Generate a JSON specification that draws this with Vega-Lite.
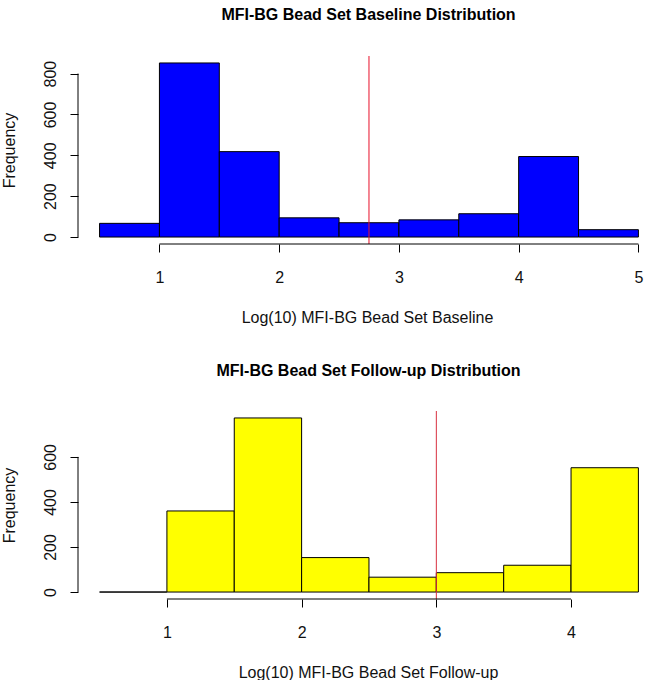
{
  "$schema": "https://vega.github.io/schema/vega-lite/v6.json",
  "padding": {"left": 1, "top": 6, "right": 0, "bottom": 0},
  "background": "white",
  "config": {
    "view": {"stroke": null},
    "font": "Liberation Sans",
    "title": {"font": "Liberation Sans", "fontSize": 16, "fontWeight": "bold", "color": "black", "offset": 33, "dx": 7},
    "axis": {
      "grid": false,
      "domain": false,
      "tickColor": "black",
      "tickSize": 8,
      "tickWidth": 1,
      "labelFont": "Liberation Sans",
      "labelFontSize": 16,
      "labelColor": "#111",
      "titleFont": "Liberation Sans",
      "titleFontSize": 16,
      "titleFontWeight": "normal",
      "titleColor": "#111",
      "labelFlush": false,
      "labelOverlap": false
    },
    "axisX": {"labelPadding": 17, "titlePadding": 24, "labelAngle": 0},
    "axisY": {"labelAngle": 270, "labelAlign": "center", "labelBaseline": "bottom", "labelPadding": 12, "titlePadding": 25}
  },
  "datasets": {
    "baseline": [
      {"bin_start": 0.5, "bin_end": 1.0, "count": 67},
      {"bin_start": 1.0, "bin_end": 1.5, "count": 852},
      {"bin_start": 1.5, "bin_end": 2.0, "count": 418},
      {"bin_start": 2.0, "bin_end": 2.5, "count": 94},
      {"bin_start": 2.5, "bin_end": 3.0, "count": 70},
      {"bin_start": 3.0, "bin_end": 3.5, "count": 84},
      {"bin_start": 3.5, "bin_end": 4.0, "count": 114},
      {"bin_start": 4.0, "bin_end": 4.5, "count": 394},
      {"bin_start": 4.5, "bin_end": 5.0, "count": 36}
    ],
    "followup": [
      {"bin_start": 0.5, "bin_end": 1.0, "count": 0},
      {"bin_start": 1.0, "bin_end": 1.5, "count": 360},
      {"bin_start": 1.5, "bin_end": 2.0, "count": 773},
      {"bin_start": 2.0, "bin_end": 2.5, "count": 153},
      {"bin_start": 2.5, "bin_end": 3.0, "count": 66},
      {"bin_start": 3.0, "bin_end": 3.5, "count": 86},
      {"bin_start": 3.5, "bin_end": 4.0, "count": 119},
      {"bin_start": 4.0, "bin_end": 4.5, "count": 552}
    ],
    "baselineLine": [{"value": 2.75}],
    "followupLine": [{"value": 3.0}]
  },
  "spacing": 37,
  "vconcat": [
    {
      "title": {"text": "MFI-BG Bead Set Baseline Distribution"},
      "width": 567,
      "height": 188,
      "layer": [
        {
          "data": {"name": "baseline"},
          "mark": {"type": "bar", "fill": "#0000ff", "stroke": "black", "strokeWidth": 1},
          "encoding": {
            "x": {"field": "bin_start", "type": "quantitative",
                  "scale": {"domain": [0.32, 5.055], "nice": false, "zero": false},
                  "axis": {"values": [1, 2, 3, 4, 5], "format": "d", "title": "Log(10) MFI-BG Bead Set Baseline", "titleX": 289}},
            "x2": {"field": "bin_end"},
            "y": {"field": "count", "type": "quantitative",
                  "scale": {"domain": [-34.1, 886.1], "nice": false, "zero": false},
                  "axis": {"values": [0, 200, 400, 600, 800], "title": "Frequency"}},
            "y2": {"datum": 0}
          }
        },
        {
          "data": {"name": "baselineLine"},
          "mark": {"type": "rule", "color": "#e8102a", "strokeWidth": 1},
          "encoding": {"x": {"field": "value", "type": "quantitative"}}
        },
        {
          "data": {"values": [{}]},
          "mark": {"type": "rule", "color": "black", "strokeWidth": 1},
          "encoding": {"x": {"datum": 1}, "x2": {"datum": 5}, "y": {"datum": -34.1}}
        },
        {
          "data": {"values": [{}]},
          "mark": {"type": "rule", "color": "black", "strokeWidth": 1},
          "encoding": {"y": {"datum": 0}, "y2": {"datum": 800}, "x": {"datum": 0.32}}
        }
      ]
    },
    {
      "title": {"text": "MFI-BG Bead Set Follow-up Distribution", "offset": 32},
      "width": 567,
      "height": 188,
      "layer": [
        {
          "data": {"name": "followup"},
          "mark": {"type": "bar", "fill": "#ffff00", "stroke": "black", "strokeWidth": 1},
          "encoding": {
            "x": {"field": "bin_start", "type": "quantitative",
                  "scale": {"domain": [0.34, 4.549], "nice": false, "zero": false},
                  "axis": {"values": [1, 2, 3, 4], "format": "d", "title": "Log(10) MFI-BG Bead Set Follow-up", "titleX": 290}},
            "x2": {"field": "bin_end"},
            "y": {"field": "count", "type": "quantitative",
                  "scale": {"domain": [-30.9, 803.9], "nice": false, "zero": false},
                  "axis": {"values": [0, 200, 400, 600], "title": "Frequency"}},
            "y2": {"datum": 0}
          }
        },
        {
          "data": {"name": "followupLine"},
          "mark": {"type": "rule", "color": "#d8303f", "strokeWidth": 1},
          "encoding": {"x": {"field": "value", "type": "quantitative"}}
        },
        {
          "data": {"values": [{}]},
          "mark": {"type": "rule", "color": "black", "strokeWidth": 1},
          "encoding": {"x": {"datum": 1}, "x2": {"datum": 4}, "y": {"datum": -30.9}}
        },
        {
          "data": {"values": [{}]},
          "mark": {"type": "rule", "color": "black", "strokeWidth": 1},
          "encoding": {"y": {"datum": 0}, "y2": {"datum": 600}, "x": {"datum": 0.34}}
        }
      ]
    }
  ]
}
